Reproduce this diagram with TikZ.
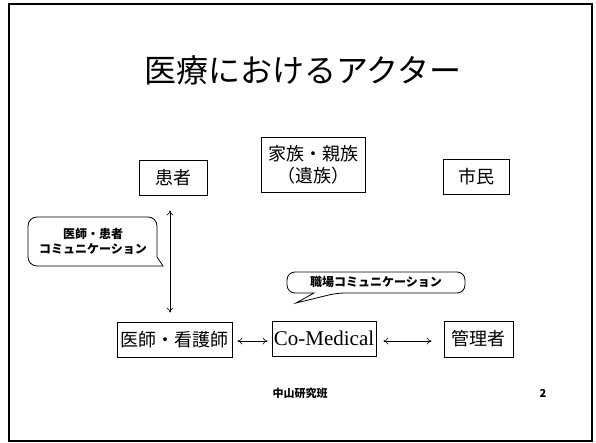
\documentclass[tikz,border=0pt]{standalone}
\usepackage{fontspec}
\setmainfont{Liberation Serif}
\newfontfamily\jp{Noto Sans CJK JP}
\usetikzlibrary{arrows.meta}
\begin{document}
\begin{tikzpicture}[x=1pt,y=-1pt,
  box/.style={draw,line width=0.8pt,inner sep=0pt,align=center,font=\jp\fontsize{18}{22}\selectfont},
  arr/.style={{To[length=5pt,width=7pt]}-{To[length=5pt,width=7pt]},line width=0.6pt},
  callout/.style={draw,line width=0.8pt},
  ctext/.style={inner sep=0pt,align=center,font=\jp\bfseries\fontsize{12}{15}\selectfont},
  foot/.style={inner sep=0pt,font=\jp\bfseries\fontsize{11}{13}\selectfont}]
\useasboundingbox (0,0) rectangle (596,443);
\draw[line width=1.5pt] (9,4) rectangle (592,441);
\node (title) at (303,70) {\jp\fontsize{32}{38}\selectfont 医療におけるアクター};
\node[box,minimum width=68pt,minimum height=35pt] (kanja) at (173,177.5) {患者};
\node[box,minimum width=104pt,minimum height=55pt] (kazoku) at (313,165) {家族・親族\\（遺族）};
\node[box,minimum width=66pt,minimum height=35pt] (shimin) at (476.5,176.5) {市民};
\node[box,minimum width=115pt,minimum height=35pt] (ishi) at (174.5,339.5) {医師・看護師};
\node[box,minimum width=104pt,minimum height=35pt,font=\fontsize{21}{24}\selectfont] (comed) at (324,338.5) {Co-Medical};
\node[box,minimum width=69pt,minimum height=36pt] (kanri) at (478.5,339) {管理者};
\draw[arr] ([xshift=-3pt,yshift=-15pt]kanja.south) -- ([xshift=-4.5pt,yshift=9pt]ishi.north);
\draw[arr,shorten <=5pt,shorten >=4pt] ([yshift=-1.5pt]ishi.east) -- ([yshift=-2.5pt]comed.west);
\draw[arr,shorten <=7pt,shorten >=12pt] ([yshift=-2.5pt]comed.east) -- ([yshift=-2pt]kanri.west);
% callout 1
\node[ctext] (callA) at (93,241) {医師・患者\\コミュニケーション};
\coordinate (tipA) at (163,266);
\draw[callout,rounded corners=9pt] (157,236) -- (157,217) -- (28,217) -- (28,266) -- (148,266) [sharp corners] -- (tipA) -- (157,257) [rounded corners=9pt] -- (157,236);
% callout 2
\node[ctext] (callB) at (376,282) {職場コミュニケーション};
\coordinate (tipB) at (296,303);
\draw[callout,rounded corners=8pt] (376,272) -- (465,272) -- (465,293) -- (337,293) [sharp corners] -- (tipB) -- (314,293) [rounded corners=8pt] -- (287,293) -- (287,272) -- (376,272);
% footer
\node[foot] (lab) at (300,393) {中山研究班};
\node[foot] (page) at (543,393) {2};
\end{tikzpicture}
\end{document}
